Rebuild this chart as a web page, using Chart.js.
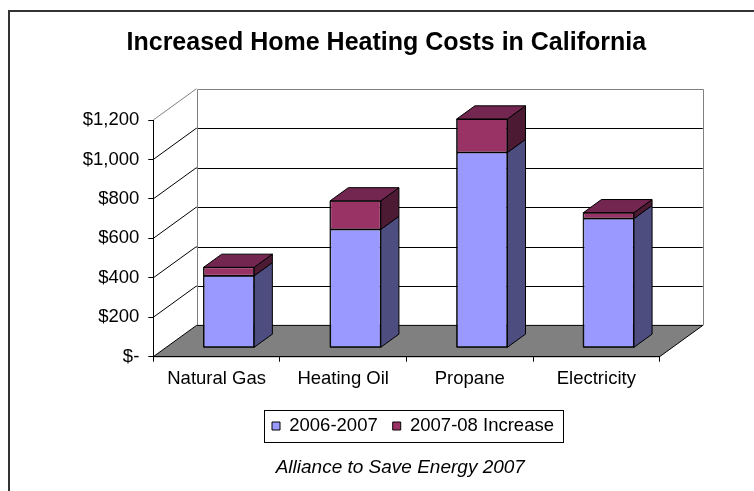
<!DOCTYPE html>
<html>
<head>
<meta charset="utf-8">
<script src="https://cdn.jsdelivr.net/npm/chart.js@4.4.0/dist/chart.umd.min.js"></script>
<style>
html,body{margin:0;padding:0;background:#fff;}
canvas{display:block;}
</style>
</head>
<body>
<canvas id="c" width="754" height="491"></canvas>
<script>
// ---- data ----
const categories = ['Natural Gas', 'Heating Oil', 'Propane', 'Electricity'];
const costs2006 = [365, 600, 990, 655];
const increase2008 = [43, 145, 170, 30];
const yTicks = [0, 200, 400, 600, 800, 1000, 1200];
const seriesNames = ['2006-2007', '2007-08 Increase'];
const titleText = 'Increased Home Heating Costs in California';
const sourceText = 'Alliance to Save Energy 2007';

// ---- style / layout ----
const FRONT_LEFT = 153.3, FRONT_RIGHT = 659.6, FRONT_BOTTOM = 356.7;
const DEPTH = { dx: 43.2, dy: -31.3 };
const BAR_FRONT = 0.285, BAR_DEPTH = 0.42;
const FRONT_COLORS = ['#9999FF', '#993366'];
const SIDE_COLORS = ['#4D4D80', '#4D1A33'];
const TOP_COLORS = ['#7373BF', '#732650'];

Chart.defaults.font.family = '"Liberation Sans", Arial, sans-serif';
Chart.defaults.color = '#000';

function line(ctx, x1, y1, x2, y2) {
  ctx.beginPath(); ctx.moveTo(x1, y1); ctx.lineTo(x2, y2); ctx.stroke();
}
const crisp = v => Math.round(v) + 0.5;

const chart3d = {
  id: 'chart3d',
  afterLayout(chart) {
    const t = chart.titleBlock;
    const dt = 386.3 - (t.left + t.right) / 2;
    t.left += dt; t.right += dt;
    const lg = chart.legend;
    const p = lg.options.labels.padding;
    const start = (lg.left + p + lg.right - lg.lineWidths[0]) / 2;
    const dl = 272 - start;
    lg.left += dl; lg.right += dl;
    const h = lg.height;
    lg.top = 426 - p - 9.25; lg.bottom = lg.top + h;
    const sub = chart.boxes.find(b => b !== t && b.options && b.options.text === sourceText);
    if (sub) {
      const ds = 400.3 - (sub.left + sub.right) / 2;
      sub.left += ds; sub.right += ds;
      const sh = sub.height;
      sub.top = 468 - sh / 2; sub.bottom = sub.top + sh;
    }
  },
  beforeDraw(chart) {
    const { ctx, chartArea: a, scales: { y } } = chart;
    const DX = DEPTH.dx, DY = DEPTH.dy;
    const yMax = yTicks[yTicks.length - 1];
    const y0 = y.getPixelForValue(0), yT = y.getPixelForValue(yMax);
    ctx.save();
    ctx.strokeStyle = '#333'; ctx.lineWidth = 2;
    ctx.strokeRect(9, 11, 900, 700);
    ctx.lineWidth = 1;
    ctx.strokeStyle = '#000';
    yTicks.forEach(v => {
      if (v === 0 || v === yMax) return;
      const py = y.getPixelForValue(v);
      line(ctx, a.left + DX, crisp(py + DY), a.right + DX, crisp(py + DY));
      line(ctx, a.left, py, a.left + DX, py + DY);
    });
    ctx.strokeStyle = '#808080';
    const bl = crisp(a.left + DX), br = crisp(a.right + DX), bt = crisp(yT + DY), bb = y0 + DY;
    line(ctx, bl, bt, br, bt);
    line(ctx, br, bt, br, bb);
    line(ctx, bl, bt, bl, bb);
    line(ctx, a.left, yT, a.left + DX, yT + DY);
    ctx.beginPath();
    ctx.moveTo(a.left, y0);
    ctx.lineTo(a.right, y0);
    ctx.lineTo(a.right + DX, y0 + DY);
    ctx.lineTo(a.left + DX, y0 + DY);
    ctx.closePath();
    ctx.fillStyle = '#808080'; ctx.fill();
    ctx.strokeStyle = '#000'; ctx.stroke();
    ctx.restore();
  },
  beforeDatasetsDraw(chart) {
    chart.ctx.save();
    chart.ctx.translate(DEPTH.dx * BAR_FRONT, DEPTH.dy * BAR_FRONT);
  },
  afterDatasetsDraw(chart) {
    const ctx = chart.ctx;
    ctx.restore();
    ctx.save();
    ctx.translate(DEPTH.dx * BAR_FRONT, DEPTH.dy * BAR_FRONT);
    const bdx = DEPTH.dx * BAR_DEPTH, bdy = DEPTH.dy * BAR_DEPTH;
    ctx.lineWidth = 1; ctx.strokeStyle = '#000'; ctx.lineJoin = 'round';
    const n = chart.data.datasets.length;
    for (let i = 0; i < n; i++) {
      const meta = chart.getDatasetMeta(i);
      meta.data.forEach(el => {
        const { x, y, base, width } = el.getProps(['x', 'y', 'base', 'width'], true);
        const xl = x - width / 2, xr = x + width / 2;
        const top = Math.min(y, base), bot = Math.max(y, base);
        // front outline
        ctx.strokeRect(xl, top, width, bot - top);
        // side face
        ctx.beginPath();
        ctx.moveTo(xr, top); ctx.lineTo(xr + bdx, top + bdy);
        ctx.lineTo(xr + bdx, bot + bdy); ctx.lineTo(xr, bot);
        ctx.closePath();
        ctx.fillStyle = SIDE_COLORS[i]; ctx.fill(); ctx.stroke();
        if (i === n - 1) {
          ctx.beginPath();
          ctx.moveTo(xl, top); ctx.lineTo(xl + bdx, top + bdy);
          ctx.lineTo(xr + bdx, top + bdy); ctx.lineTo(xr, top);
          ctx.closePath();
          ctx.fillStyle = TOP_COLORS[i]; ctx.fill(); ctx.stroke();
        }
      });
    }
    ctx.restore();
  },
  afterDraw(chart) {
    const { ctx } = chart;
    const lg = chart.legend;
    const p = lg.options.labels.padding;
    const start = (lg.left + p + lg.right - lg.lineWidths[0]) / 2;
    const end = start + lg.lineWidths[0] - p;
    const cy = lg.top + p + 9.25;
    ctx.save();
    ctx.strokeStyle = '#000'; ctx.lineWidth = 1;
    const l = crisp(start - 8), r = crisp(end + 9), t = crisp(cy - 16), b = crisp(cy + 16);
    ctx.strokeRect(l, t, r - l, b - t);
    ctx.restore();
  }
};

new Chart(document.getElementById('c'), {
  type: 'bar',
  data: {
    labels: categories,
    datasets: [
      { label: seriesNames[0], data: costs2006, backgroundColor: FRONT_COLORS[0],
        borderColor: '#000', borderWidth: 1, borderSkipped: false, clip: false },
      { label: seriesNames[1], data: increase2008, backgroundColor: FRONT_COLORS[1],
        borderColor: '#000', borderWidth: 1, borderSkipped: false, clip: false }
    ]
  },
  options: {
    responsive: false,
    devicePixelRatio: 1,
    animation: false,
    events: [],
    categoryPercentage: 1,
    barPercentage: 0.4,
    layout: { padding: { left: 0, top: 0, right: 754 - FRONT_RIGHT, bottom: 0 } },
    plugins: {
      title: {
        display: true, text: titleText, color: '#000',
        font: { size: 25, weight: 'bold' },
        padding: { top: 28.5, bottom: 61.5 }
      },
      subtitle: {
        display: true, text: sourceText, position: 'bottom', color: '#000',
        font: { size: 19, style: 'italic', weight: 'normal' }, padding: 0
      },
      legend: {
        display: true, position: 'bottom',
        labels: { boxWidth: 8, boxHeight: 8, padding: 15, font: { size: 18.5 }, color: '#000' }
      },
      tooltip: { enabled: false }
    },
    scales: {
      x: {
        stacked: true,
        grid: { offset: true, drawOnChartArea: false, drawTicks: true, tickLength: 5, color: '#000' },
        border: { display: true, color: '#000' },
        ticks: { font: { size: 18.5 }, padding: 6, maxRotation: 0, autoSkip: false },
        afterFit(scale) {
          const ch = scale.chart;
          let below = 0;
          ch.boxes.forEach(b => { if (b.position === 'bottom' && b !== scale && b.fullSize) below += b.height; });
          scale.height = ch.height - FRONT_BOTTOM - below;
        }
      },
      y: {
        stacked: true,
        min: yTicks[0], max: yTicks[yTicks.length - 1],
        afterBuildTicks(scale) { scale.ticks = yTicks.map(v => ({ value: v })); },
        grid: { drawOnChartArea: false, drawTicks: true, tickLength: 5, color: '#000' },
        border: { display: true, color: '#000' },
        ticks: {
          font: { size: 18.5 }, padding: 9,
          callback: v => v === 0 ? '$-' : '$' + Number(v).toLocaleString('en-US')
        },
        afterFit(scale) { scale.width = FRONT_LEFT; }
      }
    }
  },
  plugins: [chart3d]
});
</script>
</body>
</html>
